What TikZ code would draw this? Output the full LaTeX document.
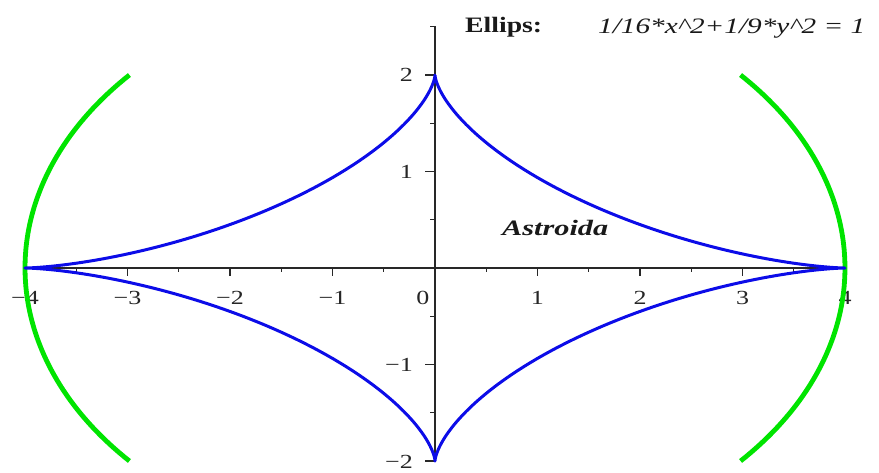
\documentclass[tikz,border=0pt]{standalone}
\usepackage{fontspec}
\setmainfont{Liberation Serif}
\definecolor{ellgreen}{RGB}{0,228,0}
\definecolor{astblue}{RGB}{12,12,232}
\definecolor{axisgray}{RGB}{40,40,40}
\newcommand{\wide}[1]{\scalebox{1.3}[1]{#1}}
\begin{document}
\begin{tikzpicture}[x=102.5pt,y=96.5pt,
  axisline/.style={line width=1.3pt, draw=axisgray},
  tickmark/.style={line width=1.1pt, draw=axisgray},
  ticklabel/.style={font=\fontsize{20}{20}\selectfont, inner sep=0pt, text=black!85},
  titletext/.style={inner sep=0pt, anchor=base west, text=black!90},
  curveA/.style={draw=astblue, line width=3pt, line join=round},
  curveE/.style={draw=ellgreen, line width=4.8pt},
]
\useasboundingbox (-435pt,-204pt) rectangle (444pt,268pt);

% axes
\coordinate (xL) at (-4,0);
\coordinate (xR) at (4,0);
\coordinate (yB) at (0,-2);
\coordinate (yT) at (0,2.51);
\draw[axisline] (xL) -- (xR);
\draw[axisline] (yB) -- (yT);

% ticks
\foreach \i in {-4,-3,-2,-1,1,2,3,4} \draw[tickmark] (\i,0) -- ++(0,-8pt);
\foreach \i in {-3.5,-2.5,-1.5,-0.5,0.5,1.5,2.5,3.5} \draw[tickmark] (\i,0) -- ++(0,-4pt);
\foreach \j in {-2,-1,1,2} \draw[tickmark] (0,\j) -- ++(-10pt,0);
\foreach \j in {-1.5,-0.5,0.5,1.5,2.5} \draw[tickmark] (0,\j) -- ++(-5pt,0);

% tick labels
\foreach \i/\t [count=\k] in {-4/−4,-3/−3,-2/−2,-1/−1,1/1,2/2,3/3,4/4}
  \node[ticklabel] (xl\k) at ([yshift=-30pt]\i,0) {\wide{\t}};
\node[ticklabel] (xl0) at (-12pt,-30pt) {\wide{0}};
\foreach \j/\t [count=\k] in {1/1,2/2,-1/−1}
  \node[ticklabel, anchor=east] (yl\k) at ([xshift=-22pt]0,\j) {\wide{\t}};
\node[ticklabel, anchor=east] (yl4) at ([xshift=-22pt,yshift=-1pt]0,-2) {\wide{−2}};

% ellipse arcs 1/16 x^2 + 1/9 y^2 = 1, clipped to |y|<=2
\draw[curveE] plot[domain=138.19:221.81, samples=80] ({4*cos(\x)},{3*sin(\x)});
\draw[curveE] plot[domain=-41.81:41.81, samples=80] ({4*cos(\x)},{3*sin(\x)});

% astroid
\draw[curveA] plot[domain=0:360, samples=361] ({4*cos(\x)^3},{2*sin(\x)^3}) -- cycle;

% texts
\node[titletext] (ttl) at (30pt,236pt) {\resizebox{77pt}{\height}{\fontsize{22}{22}\selectfont\bfseries Ellips:}};
\node[titletext] (frm) at (163pt,235pt) {\resizebox{267pt}{\height}{\fontsize{22}{22}\selectfont\itshape 1/16*x\^{}2+1/9*y\^{}2 = 1}};
\node[titletext] (ast) at (67pt,33pt) {\resizebox{106pt}{\height}{\fontsize{22}{22}\selectfont\bfseries\itshape Astroida}};
\end{tikzpicture}
\end{document}
